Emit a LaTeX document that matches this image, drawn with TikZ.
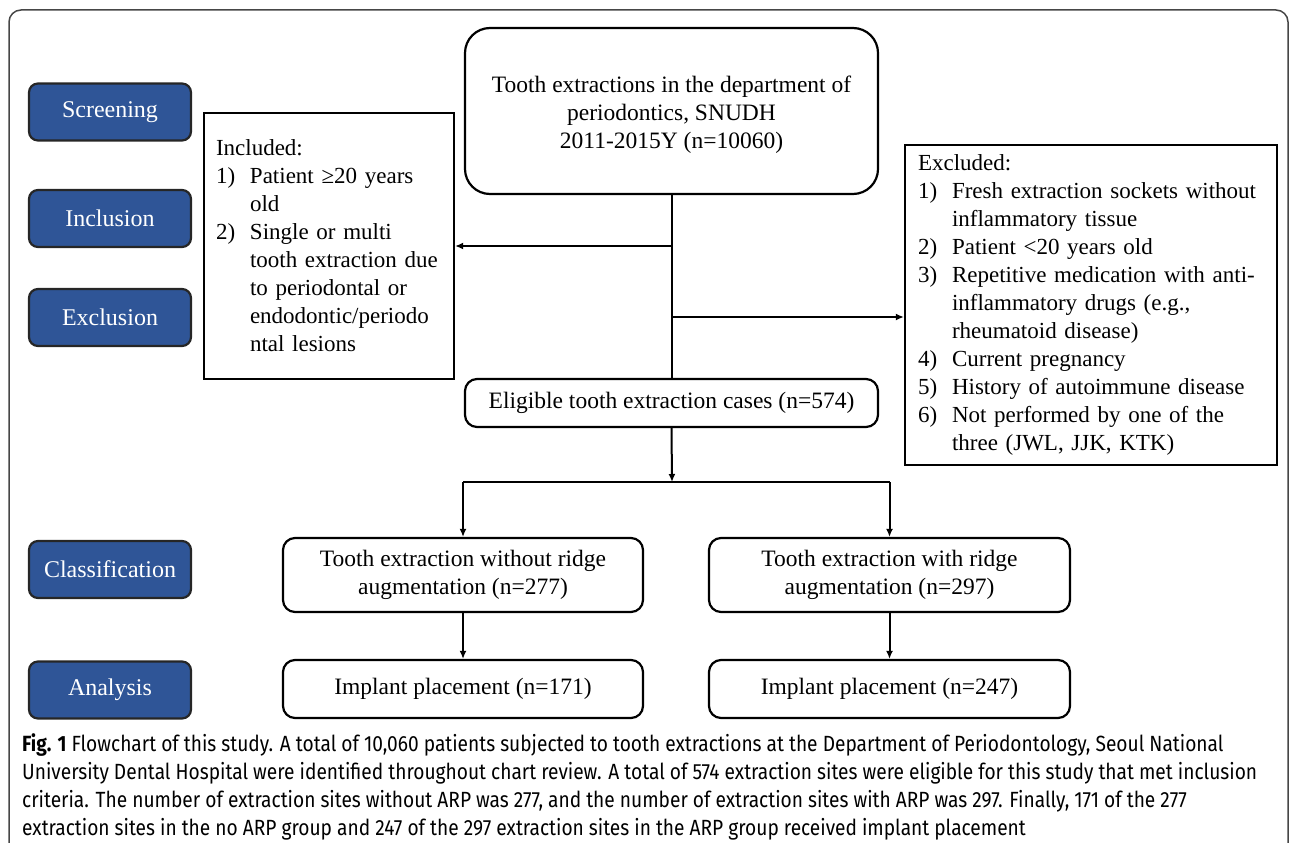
\documentclass[tikz,border=0pt]{standalone}
\usepackage{fontspec}
\setmainfont{Liberation Serif}
\newfontfamily\capfont[FakeStretch=0.87]{Fira Sans}
\usetikzlibrary{arrows.meta}
\definecolor{stageblue}{RGB}{47,85,151}
\definecolor{framegray}{RGB}{70,70,70}
\newcommand{\itemno}[1]{\makebox[34pt][l]{#1}}
\newcommand{\itemgap}{\hspace*{34pt}}

\begin{document}
\begin{tikzpicture}[x=1pt,y=-1pt,
  stage/.style={draw=black!85, line width=2.2pt, fill=stageblue, rounded corners=9pt,
    minimum width=162pt, minimum height=57pt, text=white, inner sep=0pt,
    font=\fontsize{24}{26}\selectfont},
  flow/.style={draw, line width=2.2pt, rounded corners=12pt, align=center, inner sep=0pt,
    font=\fontsize{23.5}{28}\selectfont},
  list/.style={draw, line width=2.2pt, align=left, inner sep=0pt,
    font=\fontsize{23}{28}\selectfont},
  arr/.style={-{Latex[length=8pt,width=7pt]}, line width=2pt}]
				\useasboundingbox (0,0) rectangle (1290,843);
				\draw[framegray, line width=1.5pt, rounded corners=12pt] (9,860) -- (9,10) -- (1288,10) -- (1288,860);
				
				% stages on the left
				\node[stage] (screen) at (110,112) {Screening};
				\node[stage] (inclu) at (110,218.5) {Inclusion};
				\node[stage] (exclu) at (110,317.5) {Exclusion};
				\node[stage] (classif) at (110,569.5) {Classification};
				\node[stage] (analy) at (110,690) {Analysis};
				
				% flow
				\node[flow, minimum width=413pt, minimum height=166pt, rounded corners=25pt] (total) at (671.5,111)
					{\mbox{}\\[-4pt]Tooth extractions in the department of\\periodontics, SNUDH\\2011-2015Y (n=10060)};
				\node[flow, minimum width=413pt, minimum height=48pt] (elig) at (671.5,403)
					{Eligible tooth extraction cases (n=574)};
				\node[list, minimum width=250pt, minimum height=266pt, text width=226pt] (incbox) at (329,246)
					{Included:\\
					\itemno{1)}Patient ≥20 years\\
					\itemgap old\\
					\itemno{2)}Single or multi\\
					\itemgap tooth extraction due\\
					\itemgap to periodontal or\\
					\itemgap endodontic/periodo\\
					\itemgap ntal lesions};
				\node[list, minimum width=372pt, minimum height=320pt, text width=346pt] (excbox) at (1091,305)
					{Excluded:\\
					\itemno{1)}Fresh extraction sockets without\\
					\itemgap inflammatory tissue\\
					\itemno{2)}Patient <20 years old\\
					\itemno{3)}Repetitive medication with anti-\\
					\itemgap inflammatory drugs (e.g.,\\
					\itemgap rheumatoid disease)\\
					\itemno{4)}Current pregnancy\\
					\itemno{5)}History of autoimmune disease\\
					\itemno{6)}Not performed by one of the\\
					\itemgap three (JWL, JJK, KTK)};
				\node[flow, minimum width=360pt, minimum height=74pt] (cls1) at (463,575)
					{Tooth extraction without ridge\\augmentation (n=277)};
				\node[flow, minimum width=361pt, minimum height=74pt] (cls2) at (889.5,575)
					{Tooth extraction with ridge\\augmentation (n=297)};
				\node[flow, minimum width=360pt, minimum height=58pt] (imp1) at (463,689)
					{Implant placement (n=171)};
				\node[flow, minimum width=361pt, minimum height=58pt] (imp2) at (889.5,689)
					{Implant placement (n=247)};
				
				\coordinate (exbr) at (672,317);
				\coordinate (fork) at (672,482);
				\draw[line width=2pt] (total.south) -- (elig.north);
				\draw[arr] (total.south |- incbox.east) -- (incbox.east);
				\draw[arr] (exbr) -- (exbr -| excbox.west);
				\draw[arr] (elig.south) -- (fork);
				\draw[line width=2pt] (fork -| cls1.north) -- (fork -| cls2.north);
				\draw[arr] (fork -| cls1.north) -- (cls1.north);
				\draw[arr] (fork -| cls2.north) -- (cls2.north);
				\draw[arr] (cls1.south) -- (imp1.north);
				\draw[arr] (cls2.south) -- (imp2.north);
				
				% caption
				\begin{scope}[every node/.style={anchor=west, inner sep=0pt, font=\capfont\fontsize{22}{26}\selectfont}]
					\node (cap1) at (22,745) {\textbf{Fig. 1} Flowchart of this study. A total of 10,060 patients subjected to tooth extractions at the Department of Periodontology, Seoul National};
					\node (cap2) at (22,773) {University Dental Hospital were identified throughout chart review. A total of 574 extraction sites were eligible for this study that met inclusion};
					\node (cap3) at (22,801) {criteria. The number of extraction sites without ARP was 277, and the number of extraction sites with ARP was 297. Finally, 171 of the 277};
					\node (cap4) at (22,829) {extraction sites in the no ARP group and 247 of the 297 extraction sites in the ARP group received implant placement};
				\end{scope}
			\end{tikzpicture}
\end{document}
